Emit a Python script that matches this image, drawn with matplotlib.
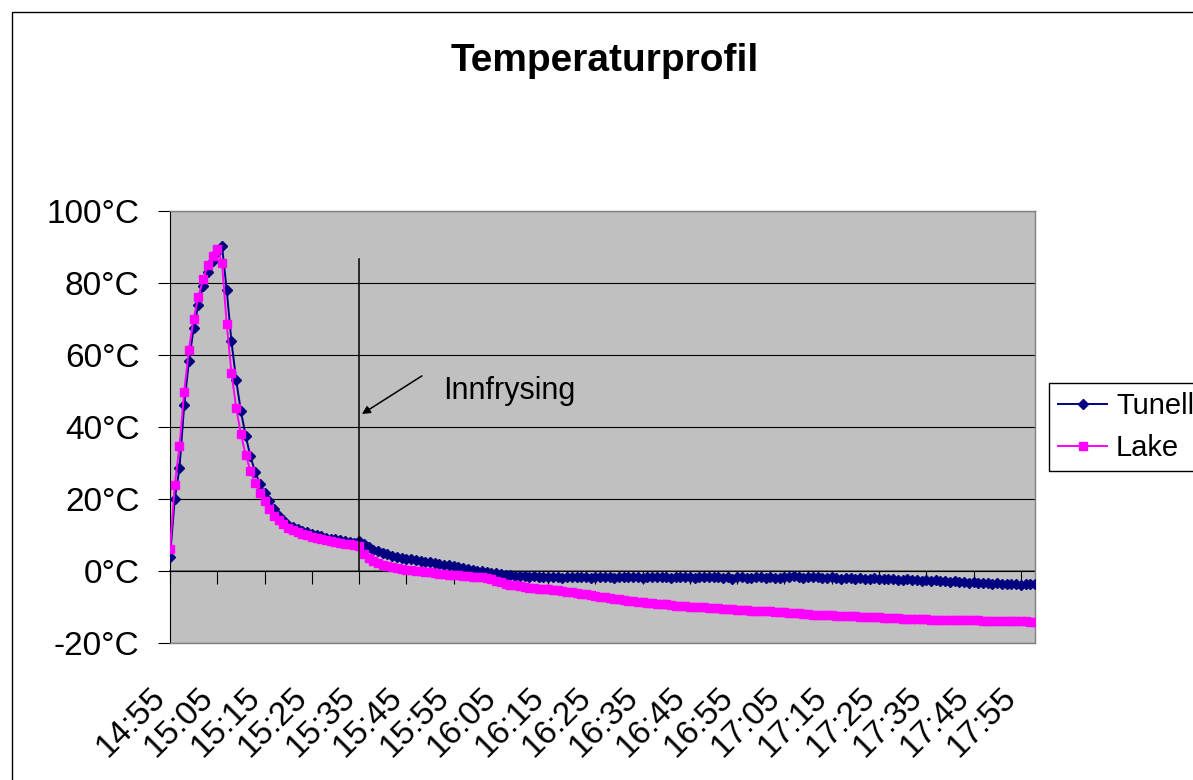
import matplotlib
matplotlib.use("Agg")
import matplotlib.pyplot as plt
from matplotlib.patches import Rectangle
from matplotlib.transforms import ScaledTranslation

# readings, one per minute from 14:55
tunell = [
    3.9, 19.9, 28.5, 46.0, 58.2, 67.4, 73.9, 79.1, 83.1, 86.2,
    88.5, 90.4, 78.0, 63.8, 53.0, 44.4, 37.6, 31.9, 27.6, 24.3,
    21.7, 19.4, 17.3, 15.4, 14.1, 12.9, 12.2, 11.7, 11.1, 10.7,
    10.3, 10.0, 9.6, 9.3, 9.0, 8.8, 8.5, 8.4, 8.1, 7.9,
    8.2, 7.4, 6.6, 5.9, 5.5, 5.0, 4.6, 4.3, 4.0, 3.7,
    3.4, 3.2, 3.0, 2.8, 2.6, 2.4, 2.2, 2.0, 1.8, 1.6,
    1.4, 1.1, 0.8, 0.6, 0.3, 0.1, -0.1, -0.3, -0.5, -0.6,
    -0.8, -1.0, -1.1, -1.3, -1.4, -1.5, -1.6, -1.5, -1.7, -1.6,
    -1.8, -1.6, -1.7, -1.9, -1.7, -1.8, -1.6, -1.8, -1.7, -1.9,
    -1.7, -1.8, -1.6, -1.7, -1.9, -1.8, -1.7, -1.6, -1.8, -1.7,
    -1.9, -1.7, -1.8, -1.6, -1.7, -1.8, -1.9, -1.7, -1.6, -1.8,
    -1.7, -1.9, -1.8, -1.7, -1.8, -1.6, -1.8, -1.9, -1.7, -2.1,
    -1.8, -1.7, -1.9, -2.0, -1.8, -1.7, -1.9, -1.8, -2.0, -1.9,
    -1.6, -1.8, -1.5, -1.7, -1.9, -1.6, -1.8, -1.7, -1.9, -2.0,
    -1.8, -1.9, -2.1, -2.0, -1.9, -2.1, -2.0, -2.2, -2.1, -2.0,
    -2.2, -2.3, -2.1, -2.2, -2.4, -2.5, -2.3, -2.6, -2.5, -2.8,
    -2.6, -2.7, -2.5, -2.8, -2.9, -3.0, -2.8, -3.1, -3.0, -3.2,
    -3.1, -3.4, -3.2, -3.3, -3.5, -3.4, -3.6, -3.5, -3.7, -3.6,
    -3.8, -3.7, -3.6, -3.7,
]

lake = [
    6.0, 23.8, 34.7, 49.8, 61.5, 70.1, 76.2, 81.0, 84.9, 87.6,
    89.5, 85.6, 68.5, 55.1, 45.3, 38.0, 32.3, 27.8, 24.5, 21.7,
    19.4, 17.3, 15.4, 14.1, 13.0, 12.0, 11.3, 10.8, 10.3, 9.9,
    9.5, 9.2, 8.9, 8.6, 8.4, 8.1, 7.9, 7.6, 7.4, 7.2,
    6.9, 4.8, 3.6, 2.9, 2.2, 1.8, 1.4, 1.1, 0.8, 0.6,
    0.4, 0.2, 0.0, -0.1, -0.3, -0.4, -0.6, -0.7, -0.9, -1.0,
    -1.1, -1.2, -1.3, -1.5, -1.6, -1.7, -1.8, -2.0, -2.3, -2.7,
    -3.1, -3.5, -3.8, -4.0, -4.2, -4.4, -4.6, -4.7, -4.9, -5.0,
    -5.1, -5.2, -5.4, -5.5, -5.7, -5.9, -6.1, -6.3, -6.5, -6.7,
    -6.9, -7.1, -7.3, -7.5, -7.7, -7.9, -8.1, -8.2, -8.4, -8.5,
    -8.7, -8.8, -9.0, -9.1, -9.2, -9.3, -9.4, -9.6, -9.7, -9.8,
    -9.9, -10.0, -10.0, -10.1, -10.2, -10.3, -10.4, -10.5, -10.5, -10.6,
    -10.7, -10.8, -10.9, -11.0, -11.0, -11.1, -11.1, -11.2, -11.3, -11.3,
    -11.4, -11.6, -11.6, -11.7, -11.9, -12.0, -12.1, -12.1, -12.2, -12.3,
    -12.3, -12.4, -12.5, -12.5, -12.6, -12.6, -12.7, -12.8, -12.8, -12.9,
    -12.9, -13.0, -13.0, -13.1, -13.1, -13.2, -13.2, -13.3, -13.3, -13.4,
    -13.4, -13.5, -13.5, -13.6, -13.6, -13.7, -13.7, -13.7, -13.7, -13.7,
    -13.7, -13.7, -13.8, -13.8, -13.8, -13.8, -13.8, -13.9, -13.9, -13.9,
    -13.9, -14.0, -14.2, -14.3,
]

time_labels = ["14:55", "15:05", "15:15", "15:25", "15:35", "15:45", "15:55",
               "16:05", "16:15", "16:25", "16:35", "16:45", "16:55", "17:05",
               "17:15", "17:25", "17:35", "17:45", "17:55"]
label_step = 10
y_ticks = [-20, 0, 20, 40, 60, 80, 100]

freeze_idx = 40
freeze_top = 86.6


def main():
    plt.rcParams["font.family"] = ["Liberation Sans", "DejaVu Sans"]

    fig = plt.figure(figsize=(11.93, 7.8), dpi=100)
    ax = fig.add_axes([170 / 1193, 1 - 643 / 780, 865 / 1193, 432 / 780])
    ax.set_facecolor("#C0C0C0")

    x = list(range(len(tunell)))
    ax.plot(x, tunell, color="#000080", lw=1.4, marker="D", ms=5.2,
            label="Tunell", zorder=3)
    ax.plot(x, lake, color="#FF00FF", lw=1.4, marker="s", ms=5.8,
            label="Lake", zorder=4)

    ax.set_xlim(0, len(tunell) - 1)
    ax.set_ylim(-20, 100)

    ax.set_yticks(y_ticks)
    ax.set_yticklabels([f"{v}°C" for v in y_ticks], fontsize=24)
    ax.tick_params(axis="y", direction="out", length=9, width=0.8, pad=13)
    ax.yaxis.grid(True, color="black", lw=0.8)
    ax.set_axisbelow(True)

    pos = list(range(0, len(tunell), label_step))[:len(time_labels)]
    ax.set_xticks(pos)
    ax.set_xticklabels(time_labels, rotation=45, ha="right", va="center",
                       rotation_mode="anchor", fontsize=24)
    ax.tick_params(axis="x", length=0, pad=36)
    shift = ScaledTranslation(-9 / 100, 0, fig.dpi_scale_trans)
    for lbl in ax.get_xticklabels():
        lbl.set_transform(lbl.get_transform() + shift)

    for side in ["top", "right", "bottom"]:
        ax.spines[side].set_color("#808080")
        ax.spines[side].set_linewidth(1)
    ax.spines["left"].set_color("black")
    ax.spines["left"].set_linewidth(0.8)

    # category axis crosses at 0 degrees
    sec = ax.secondary_xaxis(20 / 120)
    sec.set_xticks(pos)
    sec.tick_params(axis="x", direction="out", length=9, width=0.8,
                    labelbottom=False, labeltop=False, color="black")
    sec.spines["bottom"].set_color("#606060")
    sec.spines["bottom"].set_linewidth(1.2)

    ax.plot([freeze_idx, freeze_idx], [0, freeze_top], color="black", lw=1.1,
            zorder=5)
    ax.annotate("", xy=(40.6, 43.6), xytext=(53.3, 54.2),
                arrowprops=dict(arrowstyle="-|>", color="black", lw=1.1,
                                mutation_scale=12, shrinkA=0, shrinkB=0))
    ax.text(57.8, 49.9, "Innfrysing", fontsize=22, ha="left", va="center")

    fig.text(605 / 1193, 1 - 61 / 780, "Temperaturprofil", ha="center",
             va="center", fontsize=28, fontweight="bold")

    leg = fig.legend(loc="center left", bbox_to_anchor=(1049 / 1193, 1 - 427 / 780),
                     fontsize=21, frameon=True, fancybox=False,
                     edgecolor="black", framealpha=1, handlelength=1.7,
                     handletextpad=0.3, borderpad=0.3, labelspacing=0.5,
                     borderaxespad=0)
    leg.get_frame().set_linewidth(1.0)

    fig.add_artist(Rectangle((12 / 1193, -0.1), 1.2, 1 - 12 / 780 + 0.1,
                             transform=fig.transFigure, fill=False,
                             edgecolor="black", lw=1))

    fig.savefig("out.png", dpi=100)


if __name__ == "__main__":
    main()
